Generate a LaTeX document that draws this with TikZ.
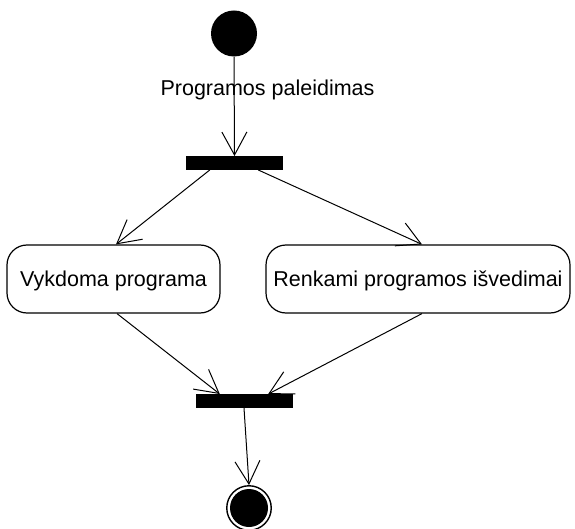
\documentclass[tikz,border=0pt]{standalone}
\usepackage{fontspec}
\setmainfont{Liberation Sans}
\usetikzlibrary{arrows.meta}
\begin{document}
\begin{tikzpicture}[x=1pt,y=-1pt,
  every node/.style={font=\fontsize{21.5}{26}\selectfont},
  flow/.style={line width=1pt,-{Straight Barb[length=23pt,width=25pt,line width=1pt]}},
  bar/.style={fill=black,draw=none,minimum width=97pt,minimum height=13.5pt,inner sep=0pt},
  activity/.style={draw,line width=1.2pt,rounded corners=20pt,minimum height=68pt,
    inner sep=0pt,text height=15pt,text depth=0pt},
  initial/.style={circle,fill=black,minimum size=46pt,inner sep=0pt},
  final/.style={circle,draw,line width=1.4pt,minimum size=44.5pt,inner sep=0pt}]
\useasboundingbox (0,0) rectangle (575,529);

% states and activities
\node[initial] (start) at (234,33.5) {};
\node[bar] (fork) at (234.5,163) {};
\node[activity,minimum width=213pt] (run) at (113.5,279) {Vykdoma programa};
\node[activity,minimum width=304pt] (collect) at (418,279) {Renkami programos išvedimai};
\node[bar] (join) at (244.5,401) {};
\node[final] (end) at (249,508) {};
\fill (end.center) circle (19pt);

% transitions
\draw[flow] (start.south) -- (fork.north);
\node[anchor=base] (trigger) at (267.5,96) {Programos paleidimas};
\draw[flow] ([xshift=24pt]fork.south west) -- ([xshift=2.5pt]run.north);
\draw[flow] ([xshift=-25pt]fork.south east) -- ([xshift=4pt]collect.north);
\draw[flow] ([xshift=3.5pt]run.south) -- ([xshift=24pt]join.north west);
\draw[flow] ([xshift=4pt]collect.south) -- ([xshift=-25pt]join.north east);
\draw[flow] ([xshift=-0.5pt]join.south) -- (end.north);
\end{tikzpicture}
\end{document}
